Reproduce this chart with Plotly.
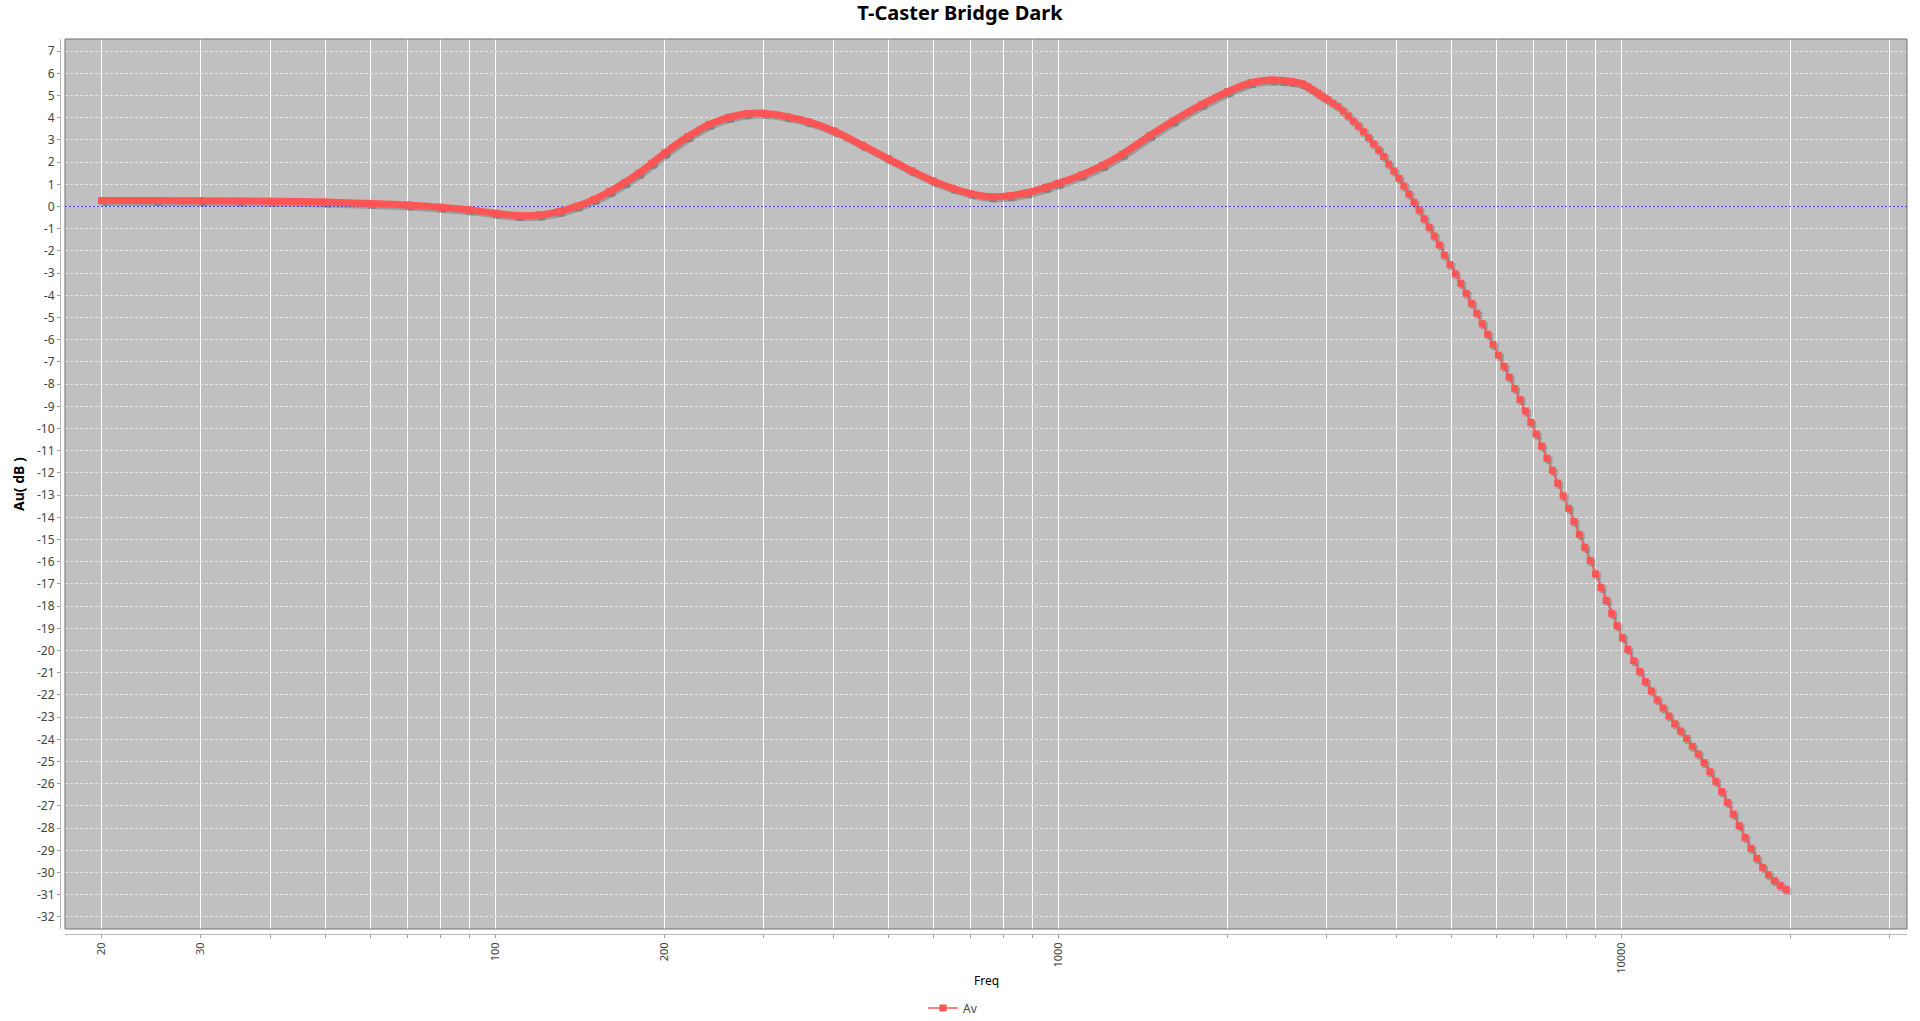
import plotly.graph_objects as go

TITLE = "T-Caster Bridge Dark"
SERIES_NAME = "Av"
X_TITLE = "Freq"
Y_TITLE = "Au( dB )"
ZERO_LEVEL = 0

# Smooth part of the response (markers overlap into a continuous band here)
freq_smooth = [20, 25, 30, 35, 40, 50, 60, 70, 80, 90, 100, 110, 120, 130, 140, 150,
               160, 170, 180, 190, 200, 220, 240, 260, 280, 300, 330, 360, 400, 450,
               500, 550, 600, 650, 700, 760, 820, 880, 950, 1000, 1100, 1200, 1300,
               1456, 1600, 1800, 2000, 2200, 2400, 2500, 2600]
av_smooth = [0.27, 0.27, 0.26, 0.25, 0.24, 0.20, 0.14, 0.07, -0.03, -0.15, -0.30, -0.41,
             -0.38, -0.22, 0.02, 0.32, 0.68, 1.08, 1.50, 1.95, 2.40, 3.15, 3.70, 4.02,
             4.18, 4.20, 4.05, 3.82, 3.40, 2.75, 2.15, 1.60, 1.15, 0.82, 0.58, 0.44,
             0.48, 0.62, 0.86, 1.04, 1.42, 1.85, 2.35, 3.20, 3.85, 4.60, 5.17, 5.58,
             5.70, 5.68, 5.63]

# Steep roll-off (individual markers visible)
freq_steep = [2720, 2777, 2835, 2894, 2955, 3017, 3080, 3144, 3210, 3277, 3345, 3415,
              3487, 3560, 3634, 3710, 3788, 3867, 3948, 4030, 4114, 4200, 4288, 4378,
              4469, 4563, 4658, 4756, 4855,
              4966, 5077, 5190, 5306, 5424, 5545, 5669, 5795, 5925, 6057, 6192, 6330,
              6471, 6615, 6763, 6914, 7068, 7225, 7386, 7551, 7720, 7892, 8068, 8248,
              8431, 8619, 8812, 9008, 9209, 9414, 9624, 9839, 10058, 10283,
              10532, 10788, 11049, 11317, 11592, 11873, 12161, 12456, 12758, 13067,
              13384, 13709, 14041, 14382, 14730, 15088, 15453, 15828, 16212, 16605,
              17008, 17420, 17843, 18275, 18719, 19172, 19637]
av_steep = [5.52, 5.40, 5.25, 5.10, 4.95, 4.80, 4.65, 4.50, 4.30, 4.08, 3.85, 3.63,
            3.37, 3.10, 2.82, 2.55, 2.25, 1.91, 1.60, 1.27, 0.92, 0.56, 0.19, -0.16,
            -0.55, -0.94, -1.33, -1.73, -2.19,
            -2.61, -3.03, -3.46, -3.91, -4.36, -4.81, -5.28, -5.76, -6.22, -6.70, -7.20,
            -7.68, -8.19, -8.69, -9.21, -9.72, -10.25, -10.79, -11.34, -11.88, -12.46,
            -13.03, -13.60, -14.18, -14.77, -15.35, -15.95, -16.55, -17.16, -17.74,
            -18.33, -18.88, -19.42, -19.95,
            -20.46, -20.94, -21.40, -21.82, -22.22, -22.59, -22.95, -23.30, -23.63,
            -23.96, -24.32, -24.66, -25.05, -25.46, -25.89, -26.36, -26.84, -27.37,
            -27.89, -28.42, -28.91, -29.36, -29.77, -30.10, -30.37, -30.58, -30.76]

x_tick_vals = [20, 30, 40, 50, 60, 70, 80, 90,
               100, 200, 300, 400, 500, 600, 700, 800, 900,
               1000, 2000, 3000, 4000, 5000, 6000, 7000, 8000, 9000,
               10000, 20000, 30000]
x_tick_labels = ["20", "30", "", "", "", "", "", "",
                 "100", "200", "", "", "", "", "", "", "",
                 "1000", "", "", "", "", "", "", "", "",
                 "10000", "", ""]
y_tick_vals = list(range(-32, 8))
y_tick_labels = [str(v) for v in y_tick_vals]

freq = freq_smooth + freq_steep
av = av_smooth + av_steep
band_n = len(freq_smooth) + 6

# ---- geometry ----
W, H = 1920, 1021
ML, MR, MT, MB = 60, 13, 39, 87
GAP = 5
area_w = W - ML - MR
area_h = H - MT - MB
x_range = [1.2362, 4.5080]
y_range = [-32.545, 7.545]
px_per_dec = (area_w - GAP) / (x_range[1] - x_range[0])
px_per_db = (area_h - GAP) / (y_range[1] - y_range[0])
SH = 2.0
x_range_sh = [x_range[0] - SH / px_per_dec, x_range[1] - SH / px_per_dec]
y_range_sh = [y_range[0] + SH / px_per_db, y_range[1] + SH / px_per_db]

RED = "#FF5555"
SHADOW = "rgba(70,70,70,0.30)"
FONT = "Noto Sans"

fig = go.Figure()

# zero reference line (base subplot: above grid, below the series)
fig.add_trace(go.Scatter(x=[10 ** x_range[0], 10 ** x_range[1]], y=[ZERO_LEVEL, ZERO_LEVEL],
                         mode="lines", line=dict(color="rgba(50,50,255,0.9)", width=1,
                                                 dash="2px,2px"),
                         showlegend=False, hoverinfo="skip", cliponaxis=True))
# shadows
fig.add_trace(go.Scatter(x=freq[:band_n], y=av[:band_n], xaxis="x2", yaxis="y2",
                         mode="lines", line=dict(color=SHADOW, width=7, shape="spline"),
                         showlegend=False, hoverinfo="skip"))
fig.add_trace(go.Scatter(x=freq, y=av, xaxis="x2", yaxis="y2", mode="lines+markers",
                         line=dict(color=SHADOW, width=1.5),
                         marker=dict(symbol="square", size=7, color=SHADOW, line=dict(width=0)),
                         showlegend=False, hoverinfo="skip"))
# band + series
fig.add_trace(go.Scatter(x=freq[:band_n], y=av[:band_n], xaxis="x3", yaxis="y3",
                         mode="lines", line=dict(color=RED, width=7, shape="spline"),
                         showlegend=False, hoverinfo="skip"))
fig.add_trace(go.Scatter(x=freq, y=av, xaxis="x3", yaxis="y3", mode="lines+markers",
                         name=SERIES_NAME,
                         line=dict(color=RED, width=1.5),
                         marker=dict(symbol="square", size=7, color=RED, line=dict(width=0))))

xdom = [GAP / area_w, 1]
ydom = [GAP / area_h, 1]

fig.update_layout(
    width=W, height=H, autosize=False,
    margin=dict(l=ML, r=MR, t=MT, b=MB, pad=0, autoexpand=False),
    paper_bgcolor="white",
    plot_bgcolor="#C0C0C0",
    font=dict(family=FONT, color="#444444", size=12),
    title=dict(text=TITLE, x=0.5, xref="container", xanchor="center",
               y=1 - 13 / H, yref="container", yanchor="middle",
               font=dict(family=FONT, size=20, color="#000000", weight="bold")),
    showlegend=True,
    legend=dict(orientation="h", xref="container", yref="container",
                x=953 / W, xanchor="center",
                y=1 - 1008 / H, yanchor="middle",
                font=dict(family=FONT, size=12, color="#444444"),
                bgcolor="rgba(0,0,0,0)", itemwidth=30),
    xaxis=dict(type="log", range=x_range, domain=xdom, anchor="free", position=0,
               tickmode="array", tickvals=x_tick_vals, ticktext=x_tick_labels,
               tickangle=-90, tickfont=dict(size=11, color="#444444"),
               ticks="outside", ticklen=3, tickcolor="#999999",
               showline=True, linecolor="#B8B8B8", linewidth=1,
               showgrid=True, gridcolor="#FFFFFF", gridwidth=1,
               zeroline=False, automargin=False),
    yaxis=dict(range=y_range, domain=ydom, anchor="free", position=0,
               tickmode="array", tickvals=y_tick_vals, ticktext=y_tick_labels,
               tickfont=dict(size=12, color="#444444"),
               ticks="outside", ticklen=3, tickcolor="#999999",
               showline=True, linecolor="#B8B8B8", linewidth=1,
               showgrid=True, gridcolor="#E6E6E6", gridwidth=1, griddash="3px,2px",
               zeroline=False, automargin=False),
    xaxis2=dict(type="log", range=x_range_sh, overlaying="x", visible=False, domain=xdom),
    yaxis2=dict(range=y_range_sh, overlaying="y", visible=False, domain=ydom),
    xaxis3=dict(type="log", range=x_range, overlaying="x", visible=False, domain=xdom),
    yaxis3=dict(range=y_range, overlaying="y", visible=False, domain=ydom),
    shapes=[
        dict(type="rect", xref="x domain", yref="y domain", x0=0, x1=1, y0=0, y1=1,
             line=dict(color="#707070", width=1), layer="above"),
    ],
    annotations=[
        dict(text=X_TITLE, xref="paper", yref="paper",
             x=(986 - ML) / area_w, y=(MT + area_h - 980) / area_h,
             xanchor="center", yanchor="middle", showarrow=False,
             font=dict(family=FONT, size=12, color="#000000")),
        dict(text="<b>" + Y_TITLE + "</b>", xref="paper", yref="paper",
             x=(18 - ML) / area_w, y=(MT + area_h - 484) / area_h, textangle=-90,
             xanchor="center", yanchor="middle", showarrow=False,
             font=dict(family=FONT, size=14, color="#000000")),
    ],
)

fig.write_html("out.html", config={"responsive": False, "displayModeBar": False},
               post_script="document.body.style.margin='0';document.body.style.overflow='hidden';")
